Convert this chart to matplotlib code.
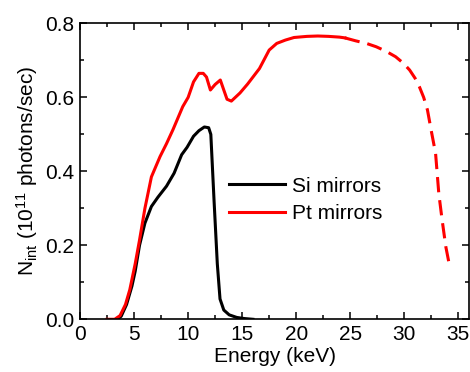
import matplotlib
matplotlib.use("Agg")
import matplotlib.pyplot as plt
from matplotlib.ticker import MultipleLocator

plt.rcParams['font.family'] = ['Liberation Sans', 'DejaVu Sans']
plt.rcParams['mathtext.fontset'] = 'custom'
plt.rcParams['mathtext.rm'] = 'Liberation Sans'
plt.rcParams['mathtext.it'] = 'Liberation Sans'

# Si mirrors (black)
si_energy = [3.4, 3.8, 4.3, 4.8, 5.1, 5.5, 6.0, 6.6, 7.2, 8.0, 8.7, 9.4, 9.9, 10.5, 11.0, 11.5, 11.9, 12.1, 12.4, 12.7, 12.95, 13.3, 13.8, 14.5, 15.2, 16.0]
si_flux = [0.0, 0.008, 0.04, 0.09, 0.13, 0.20, 0.26, 0.305, 0.33, 0.36, 0.395, 0.445, 0.465, 0.495, 0.51, 0.52, 0.518, 0.50, 0.32, 0.15, 0.055, 0.025, 0.012, 0.005, 0.002, 0.0]

# Pt mirrors (red), solid part
pt_energy = [2.5, 3.2, 3.7, 4.2, 4.6, 5.1, 5.5, 6.0, 6.6, 7.4, 8.0, 8.6, 9.5, 10.0, 10.5, 11.0, 11.4, 11.7, 12.06, 12.5, 12.98, 13.3, 13.6, 14.0, 14.8, 15.5, 16.6, 17.5, 18.2, 19.0, 19.8, 21.0, 22.0, 23.0, 24.0, 24.5]
pt_flux = [0.0, 0.0, 0.01, 0.04, 0.08, 0.15, 0.214, 0.30, 0.385, 0.44, 0.475, 0.513, 0.575, 0.60, 0.642, 0.665, 0.665, 0.655, 0.62, 0.635, 0.647, 0.62, 0.595, 0.59, 0.612, 0.636, 0.678, 0.728, 0.746, 0.755, 0.762, 0.765, 0.766, 0.765, 0.763, 0.761]

# Pt mirrors (red), dashed extrapolation
pt_ext_energy = [24.5, 25.5, 26.5, 27.4, 28.3, 29.2, 29.9, 30.5, 31.0, 31.4, 31.8, 32.15, 32.5, 32.9, 33.2, 33.5, 33.85, 34.15]
pt_ext_flux = [0.761, 0.753, 0.746, 0.737, 0.725, 0.71, 0.693, 0.674, 0.652, 0.629, 0.60, 0.566, 0.51, 0.449, 0.34, 0.27, 0.196, 0.151]

fig = plt.figure(figsize=(4.7, 3.72), dpi=100)
ax = fig.add_axes([0.1704, 0.1417, 0.998 - 0.1704, 0.937 - 0.1417])

ax.plot(si_energy, si_flux, color='black', lw=2.2, label='Si mirrors')
ax.plot(pt_energy, pt_flux, color='#ff0000', lw=2.2, label='Pt mirrors')
ax.plot(pt_ext_energy, pt_ext_flux, color='#ff0000', lw=2.2, dashes=(5, 2.6))

ax.set_xlim(0, 36)
ax.set_ylim(0, 0.8)
ax.xaxis.set_major_locator(MultipleLocator(5))
ax.xaxis.set_minor_locator(MultipleLocator(2.5))
ax.yaxis.set_major_locator(MultipleLocator(0.2))
ax.yaxis.set_minor_locator(MultipleLocator(0.1))
ax.yaxis.set_major_formatter(matplotlib.ticker.FormatStrFormatter('%.1f'))
ax.tick_params(which='both', direction='in', top=True, right=True, labelsize=15, width=1.1)
ax.tick_params(which='major', length=5, pad=4)
ax.tick_params(which='minor', length=3)
for s in ax.spines.values():
    s.set_linewidth(1.2)

ax.set_xlabel('Energy (keV)', fontsize=15, labelpad=2)
ax.set_ylabel(r'N$_{\rm int}$ (10$^{11}$ photons/sec)', fontsize=15, labelpad=4)

leg = ax.legend(loc='upper left', bbox_to_anchor=(0.362, 0.51), frameon=False, fontsize=15,
                handlelength=2.7, handletextpad=0.3, labelspacing=0.4, borderaxespad=0)

fig.savefig('out.png', dpi=100)
